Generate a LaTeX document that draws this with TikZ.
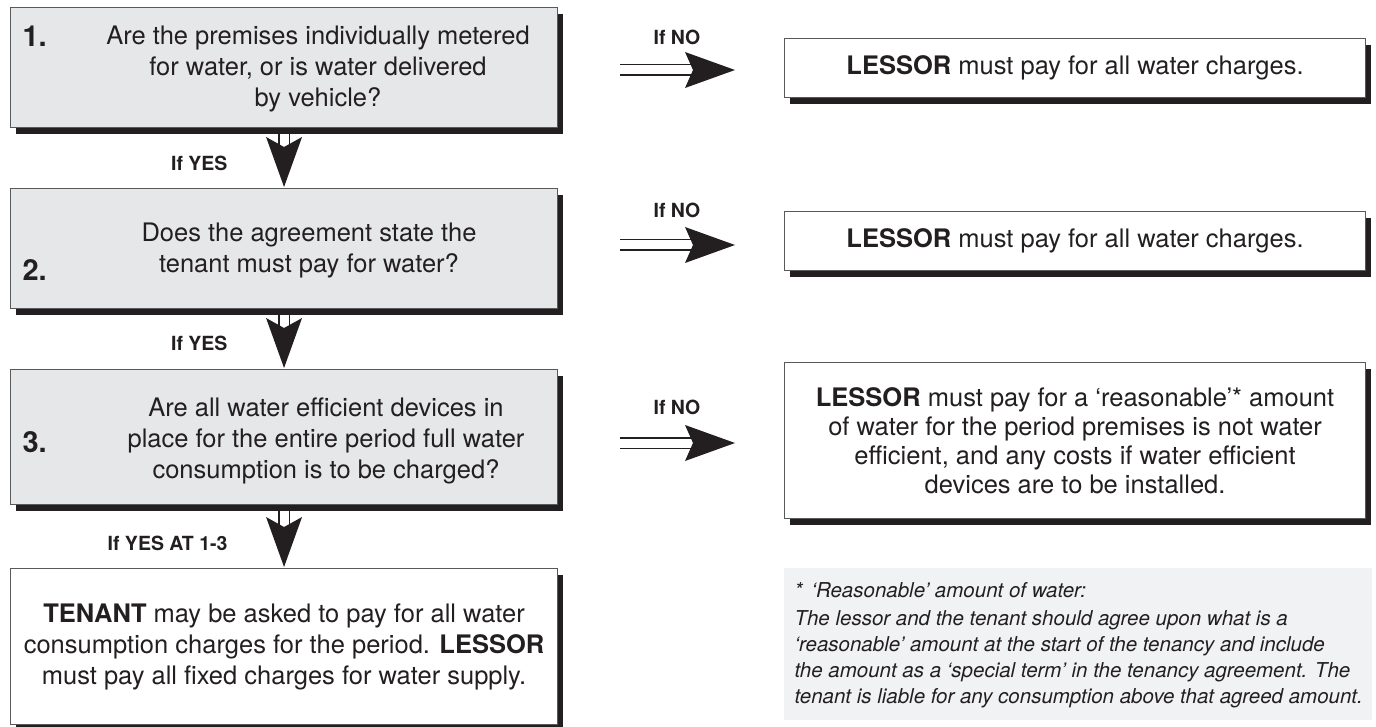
\documentclass[tikz,border=0pt]{standalone}
\usepackage{fontspec}
\setmainfont{TeX Gyre Heros}
\usetikzlibrary{shadows}
\definecolor{ink}{HTML}{231F20}
\definecolor{boxgray}{HTML}{E6E7E8}
\definecolor{edge}{HTML}{58595B}
\definecolor{notegray}{HTML}{F1F2F3}
\begin{document}
\begin{tikzpicture}[x=1pt,y=-1pt,
  box/.style={draw=edge, line width=1.1pt, fill=boxgray, anchor=north west, inner sep=0pt,
    drop shadow={shadow xshift=5pt, shadow yshift=-6pt, fill=ink, opacity=1}},
  wbox/.style={box, fill=white},
  main/.style={font=\fontsize{25.5}{31}\selectfont, text=ink, align=center},
  num/.style={font=\fontsize{29}{30}\selectfont\bfseries, text=ink, anchor=west},
  lab/.style={font=\fontsize{19.5}{22}\selectfont\bfseries, text=ink},
  note/.style={font=\fontsize{20.5}{26}\selectfont\itshape, text=ink, align=left, anchor=west},
  shaft/.style={draw=ink, line width=1.6pt, double=white, double distance=9pt},
  head/.style={fill=ink}
]
\useasboundingbox (0,0) rectangle (1376,727);

% left column boxes
\node[box, minimum width=547pt, minimum height=120pt] (b1) at (10,7) {};
\node[box, minimum width=547pt, minimum height=120pt] (b2) at (10,188) {};
\node[box, minimum width=547pt, minimum height=135pt] (b3) at (10,369) {};
\node[wbox, main, minimum width=547pt, minimum height=156pt] (b4) at (10,568)
  {\textbf{TENANT} may be asked to pay for all water\\consumption charges for the period. \textbf{LESSOR}\\must pay all fixed charges for water supply.};

\node[main] (t1) at (318,69) {Are the premises individually metered\\for water, or is water delivered\\by vehicle?};
\node[num] (n1) at (19,36) {1.};
\node[main] (t2) at (309,250) {Does the agreement state the\\tenant must pay for water?};
\node[num] (n2) at (19,270) {2.};
\node[main] (t3) at (326,441) {Are all water efficient devices in\\place for the entire period full water\\consumption is to be charged?};
\node[num] (n3) at (19,442) {3.};

% right column boxes
\node[wbox, main, minimum width=581pt, minimum height=59pt] (r1) at (784,38)
  {\textbf{LESSOR} must pay for all water charges.};
\node[wbox, main, minimum width=581pt, minimum height=59pt] (r2) at (784,211)
  {\textbf{LESSOR} must pay for all water charges.};
\node[wbox, main, font=\fontsize{25.5}{29}\selectfont, minimum width=581pt, minimum height=156pt] (r3) at (784,362)
  {\textbf{LESSOR} must pay for a ‘reasonable’* amount\\of water for the period premises is not water\\efficient, and any costs if water efficient\\devices are to be installed.};

% footnote
\node[fill=notegray, anchor=north west, inner sep=0pt, minimum width=588pt, minimum height=152pt] (fn) at (784,568) {};
\node[note] (fs) at (791,590) {*\hspace{9pt}‘Reasonable’ amount of water:};
\node[note] (fp) at (791,659) {The lessor and the tenant should agree upon what is a\\‘reasonable’ amount at the start of the tenancy and include\\the amount as a ‘special term’ in the tenancy agreement. The\\tenant is liable for any consumption above that agreed amount.};

% vertical arrows
\draw[shaft] ([yshift=-6pt]b1.south) -- ([yshift=38pt]b2.north);
\fill[head] ([yshift=1pt]b2.north) -- ++(-18,-50) -- ++(18,10) -- ++(18,-10) -- cycle;
\draw[shaft] ([yshift=-6pt]b2.south) -- ([yshift=38pt]b3.north);
\fill[head] ([yshift=1pt]b3.north) -- ++(-18,-50) -- ++(18,10) -- ++(18,-10) -- cycle;
\draw[shaft] ([yshift=-6pt]b3.south) -- ([yshift=38pt]b4.north);
\fill[head] ([yshift=1pt]b4.north) -- ++(-18,-50) -- ++(18,10) -- ++(18,-10) -- cycle;

\node[lab, anchor=east] (y1) at (231,163) {If YES};
\node[lab, anchor=east] (y2) at (231,343) {If YES};
\node[lab, anchor=east] (y3) at (231,543) {If YES AT 1-3};

% horizontal arrows
\coordinate (h1s) at (620,70);  \coordinate (h1t) at (735,70);
\coordinate (h2s) at (620,245); \coordinate (h2t) at (735,245);
\coordinate (h3s) at (620,443); \coordinate (h3t) at (735,443);
\draw[shaft] (h1s) -- ([xshift=-38pt]h1t);
\fill[head] (h1t) -- ++(-50,-18) -- ++(8,18) -- ++(-8,18) -- cycle;
\draw[shaft] (h2s) -- ([xshift=-38pt]h2t);
\fill[head] (h2t) -- ++(-50,-18) -- ++(8,18) -- ++(-8,18) -- cycle;
\draw[shaft] (h3s) -- ([xshift=-38pt]h3t);
\fill[head] (h3t) -- ++(-50,-18) -- ++(8,18) -- ++(-8,18) -- cycle;

\node[lab] (l1) at (677,37) {If NO};
\node[lab] (l2) at (677,210) {If NO};
\node[lab] (l3) at (677,407) {If NO};
\end{tikzpicture}
\end{document}
